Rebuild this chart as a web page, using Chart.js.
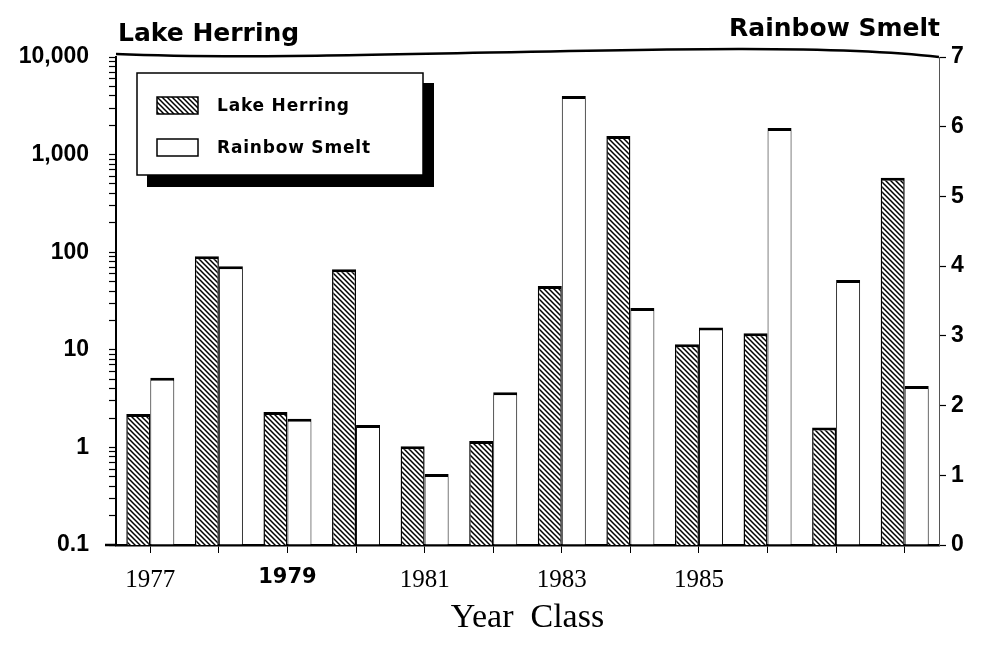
<!DOCTYPE html>
<html>
<head>
<meta charset="utf-8">
<script src="https://cdn.jsdelivr.net/npm/chart.js@4.4.1/dist/chart.umd.min.js"></script>
<style>
  html, body { margin: 0; padding: 0; background: #fff; }
  #wrap { width: 981px; height: 646px; position: relative; }
</style>
</head>
<body>
<div id="wrap"><canvas id="chart"></canvas></div>
<script>
// data
const yearClasses = ['1977', '1978', '1979', '1980', '1981', '1982', '1983', '1984', '1985', '1986', '1987', '1988'];
const shownYears = ['1977', '1979', '1981', '1983', '1985'];
const lakeHerring = [2.2, 91, 2.3, 67, 1.03, 1.16, 45, 1550, 11.4, 14.8, 1.6, 580];
const rainbowSmelt = [2.4, 4.0, 1.81, 1.72, 1.02, 2.19, 6.44, 3.40, 3.12, 5.98, 3.80, 2.28];
const herringTicks = [0.1, 1, 10, 100, 1000, 10000];
const herringTickLabels = ['0.1', '1', '10', '100', '1,000', '10,000'];
const smeltTicks = [0, 1, 2, 3, 4, 5, 6, 7];
const leftTitle = 'Lake Herring';
const rightTitle = 'Rainbow Smelt';

// minor ticks 1..9 inside each decade
const logTickValues = [];
for (let i = 0; i < herringTicks.length - 1; i++) {
  for (let m = 1; m <= 9; m++) logTickValues.push(herringTicks[i] * m);
}
logTickValues.push(herringTicks[herringTicks.length - 1]);

function makeHatch() {
  const c = document.createElement('canvas');
  c.width = 5; c.height = 5;
  const g = c.getContext('2d');
  g.fillStyle = '#fff';
  g.fillRect(0, 0, 5, 5);
  g.strokeStyle = '#000';
  g.lineWidth = 1.5;
  g.beginPath();
  g.moveTo(-1, -1); g.lineTo(6, 6);
  g.moveTo(-1, 4); g.lineTo(1, 6);
  g.moveTo(4, -1); g.lineTo(6, 1);
  g.stroke();
  return g.createPattern(c, 'repeat');
}
const hatch = makeHatch();

const sans = 'Liberation Sans';
const wide = 'DejaVu Sans';

const decor = {
  id: 'decor',
  afterDraw(chart) {
    const {ctx, chartArea: a} = chart;
    ctx.save();
    // wavy top frame line
    ctx.strokeStyle = '#000';
    ctx.lineWidth = 2.5;
    ctx.beginPath();
    ctx.moveTo(a.left, a.top - 3);
    ctx.bezierCurveTo(350, a.top + 7, 760, a.top - 21, a.right, a.top);
    ctx.stroke();
    // x axis line runs a bit past the left axis
    ctx.beginPath();
    ctx.moveTo(105, a.bottom);
    ctx.lineTo(a.left, a.bottom);
    ctx.stroke();

    // axis titles above the axes
    ctx.fillStyle = '#000';
    ctx.font = 'bold 25px ' + wide;
    ctx.textBaseline = 'alphabetic';
    ctx.textAlign = 'left';
    ctx.fillText(leftTitle, 118, 41);
    ctx.textAlign = 'right';
    ctx.fillText(rightTitle, 940, 36);

    // legend with drop shadow
    ctx.fillStyle = '#000';
    ctx.fillRect(147, 83, 287, 104);
    ctx.fillStyle = '#fff';
    ctx.fillRect(137, 73, 286, 102);
    ctx.lineWidth = 1.5;
    ctx.strokeStyle = '#000';
    ctx.strokeRect(137, 73, 286, 102);

    const ds = chart.data.datasets;
    const rows = [105, 147];
    ds.forEach((d, i) => {
      ctx.fillStyle = d.backgroundColor;
      ctx.fillRect(157, rows[i] - 8, 41, 17);
      ctx.lineWidth = 1.5;
      ctx.strokeRect(157, rows[i] - 8, 41, 17);
      ctx.fillStyle = '#000';
      ctx.font = 'bold 17px ' + wide;
      ctx.textAlign = 'left';
      ctx.textBaseline = 'middle';
      ctx.letterSpacing = '0.8px';
      ctx.fillText(d.label, 217, rows[i] + 2);
      ctx.letterSpacing = '0px';
    });
    ctx.restore();
  }
};

new Chart(document.getElementById('chart'), {
  type: 'bar',
  data: {
    labels: yearClasses,
    datasets: [{
      label: 'Lake Herring',
      data: lakeHerring,
      yAxisID: 'y',
      backgroundColor: hatch,
      borderColor: '#000',
      borderWidth: {top: 3, left: 1.5, right: 1.5, bottom: 0}
    }, {
      label: 'Rainbow Smelt',
      data: rainbowSmelt,
      yAxisID: 'y1',
      backgroundColor: '#fff',
      borderColor: '#000',
      borderWidth: {top: 3, left: 1, right: 1, bottom: 0}
    }]
  },
  options: {
    responsive: true,
    maintainAspectRatio: false,
    animation: false,
    layout: {padding: {top: 57, left: 0, right: 0, bottom: 0}},
    datasets: {bar: {categoryPercentage: 0.7, barPercentage: 1.0}},
    plugins: {
      legend: {display: false},
      tooltip: {enabled: false}
    },
    scales: {
      x: {
        afterFit: s => { s.height = 101; },
        grid: {display: true, drawOnChartArea: false, offset: false, tickLength: 8, tickColor: '#000', tickWidth: 1},
        border: {color: '#000', width: 2.5},
        ticks: {
          autoSkip: false,
          maxRotation: 0,
          padding: 12,
          color: '#000',
          callback: function (v, i) {
            const lab = yearClasses[i];
            return shownYears.includes(lab) ? lab : '';
          },
          font: c => (yearClasses[c.index] === '1979'
            ? {family: wide, weight: 'bold', size: 21}
            : {family: 'Liberation Serif', size: 25})
        },
        title: {
          display: true,
          text: 'Year  Class',
          color: '#000',
          font: {family: 'Liberation Serif', size: 34},
          padding: {top: 0, bottom: 8}
        }
      },
      y: {
        type: 'logarithmic',
        position: 'left',
        min: 0.1,
        max: 10000,
        afterFit: s => { s.width = 116; },
        afterBuildTicks: s => { s.ticks = logTickValues.map(v => ({value: v})); },
        grid: {drawOnChartArea: false, tickLength: 7, tickColor: '#000', tickWidth: 1.2},
        border: {color: '#000', width: 2},
        ticks: {
          autoSkip: false,
          padding: 20,
          color: '#000',
          font: {family: sans, weight: 'bold', size: 23},
          callback: v => {
            const k = herringTicks.indexOf(v);
            return k >= 0 ? herringTickLabels[k] : '';
          }
        }
      },
      y1: {
        type: 'linear',
        position: 'right',
        min: 0,
        max: 7,
        afterFit: s => { s.width = 42; },
        afterBuildTicks: s => { s.ticks = smeltTicks.map(v => ({value: v})); },
        grid: {drawOnChartArea: false, tickLength: 7, tickColor: '#000', tickWidth: 1.2},
        border: {color: '#555', width: 1, dash: [8, 3]},
        ticks: {
          padding: 5,
          color: '#000',
          font: {family: sans, weight: 'bold', size: 23}
        }
      }
    }
  },
  plugins: [decor]
});
</script>
</body>
</html>
